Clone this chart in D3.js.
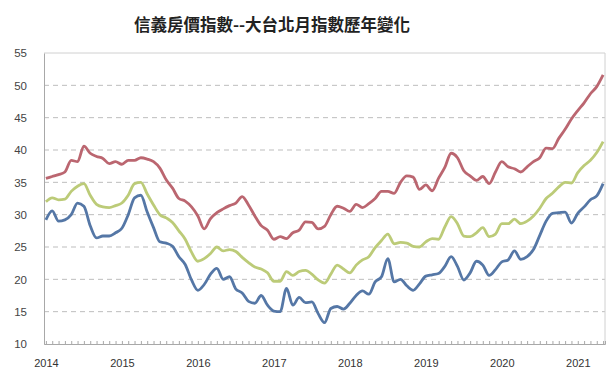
<!DOCTYPE html>
<html><head><meta charset="utf-8">
<script src="https://cdn.jsdelivr.net/npm/d3@7"></script>
<style>
html,body{margin:0;padding:0;background:#fff;}
svg{display:block;}
</style></head>
<body>
<svg id="chart" width="607" height="371"></svg>
<script>
const title = "信義房價指數--大台北月指數歷年變化";
const yearLabels = ["2014","2015","2016","2017","2018","2019","2020","2021"];
const yTicks = [10,15,20,25,30,35,40,45,50,55];
// monthly values Jan 2014 .. May 2021
const redSeries = [35.6,35.9,36.2,36.6,38.4,38.2,40.6,39.5,39.0,38.7,37.9,38.2,
37.8,38.4,38.4,38.8,38.6,38.2,37.2,35.4,34.1,32.5,32.1,31.2,
29.8,27.8,29.4,30.3,30.9,31.4,31.8,32.8,31.5,29.8,28.3,27.6,
26.2,26.6,26.3,27.2,27.6,28.9,28.8,27.8,28.2,30.0,31.3,31.0,
30.5,31.6,31.1,31.7,32.5,33.6,33.6,33.3,35.0,36.0,35.8,33.9,
34.6,33.7,35.6,37.3,39.5,38.8,36.8,36.0,35.3,35.9,34.8,36.6,
38.2,37.4,37.1,36.6,37.4,38.2,38.8,40.3,40.2,41.8,43.2,44.8,
46.1,47.3,48.7,49.8,51.6];
const greenSeries = [32.0,32.6,32.3,32.4,33.6,34.4,34.8,33.0,31.6,31.2,31.1,31.4,
31.8,33.0,34.8,35.0,33.2,31.5,30.0,29.5,28.8,27.5,26.2,24.2,
22.8,23.2,24.0,25.0,24.4,24.6,24.3,23.4,22.6,21.9,21.6,21.0,
19.7,19.7,21.2,20.6,21.2,21.4,20.8,19.9,19.4,20.8,22.2,21.6,
21.0,22.2,23.0,23.5,24.9,26.0,27.0,25.5,25.7,25.6,25.1,25.0,
25.8,26.3,26.2,28.1,29.7,28.6,26.7,26.6,27.2,28.0,26.6,27.0,
28.6,28.6,29.3,28.6,29.0,29.8,31.0,32.5,33.3,34.3,35.0,34.9,
36.5,37.6,38.4,39.6,41.3];
const blueSeries = [29.2,30.6,29.0,29.2,30.0,31.8,31.3,28.3,26.4,26.7,26.7,27.2,
27.9,30.0,32.6,33.0,30.4,28.0,25.8,25.6,25.1,23.5,22.3,19.9,
18.3,19.2,20.8,21.7,20.0,20.4,18.5,17.9,16.6,16.3,17.5,16.0,
15.1,15.0,18.6,16.0,17.2,16.4,16.5,14.7,13.3,15.5,15.8,15.4,
16.3,17.5,18.2,17.7,19.6,20.4,23.2,19.6,20.0,19.0,18.3,19.3,
20.5,20.7,20.9,22.0,23.5,22.0,19.9,21.0,22.8,22.2,20.6,21.5,
22.7,23.0,24.4,23.1,23.5,24.6,26.8,29.0,30.2,30.3,30.4,28.7,
30.2,31.2,32.3,32.9,34.8];
const seriesList = [
  {name:"blue", values: blueSeries, color:"#5577a6"},
  {name:"green", values: greenSeries, color:"#bccb78"},
  {name:"red", values: redSeries, color:"#bb6670"}
];

const svg = d3.select("#chart");
const L = 44, R = 605, T = 53, B = 344;
const n = redSeries.length;
const x = d3.scaleLinear().domain([-0.3, n - 1 + 0.3]).range([L, R]);
const y = d3.scaleLinear().domain([10, 55]).range([B, T]);

// title
svg.append("text").attr("x", 272).attr("y", 31).attr("text-anchor","middle")
  .attr("font-family","'Noto Sans CJK TC','Noto Sans CJK SC',sans-serif")
  .attr("font-weight","bold").attr("font-size",16.5).attr("fill","#222").text(title);

// gridlines
svg.append("g").selectAll("line").data(yTicks.filter(d => d > 10 && d < 55)).join("line")
  .attr("x1", L).attr("x2", R).attr("y1", d => y(d)).attr("y2", d => y(d))
  .attr("stroke","#bdbdbd").attr("stroke-width",1).attr("stroke-dasharray","5,4");

// frame top/right
svg.append("line").attr("x1",L).attr("x2",R).attr("y1",y(55)).attr("y2",y(55)).attr("stroke","#d0d0d0");
svg.append("line").attr("x1",R).attr("x2",R).attr("y1",y(55)).attr("y2",y(10)).attr("stroke","#d0d0d0");

// y axis
const yAxis = d3.axisLeft(y).tickValues(yTicks).tickSize(0).tickPadding(17);
const gy = svg.append("g").attr("transform",`translate(${L},0)`).call(yAxis);
gy.select(".domain").attr("stroke","#a8a8a8");
gy.selectAll("text").attr("font-family","'Liberation Sans',Arial,sans-serif").attr("font-size",11.5).attr("fill","#444");

// x axis: monthly minor ticks, yearly labels
const xMinor = d3.axisBottom(x).tickValues(d3.range(0, n)).tickSize(-3).tickFormat("");
const gxm = svg.append("g").attr("transform",`translate(0,${B})`).call(xMinor);
gxm.select(".domain").attr("stroke","#a8a8a8");
gxm.selectAll(".tick line").attr("stroke","#a8a8a8");
const xAxis = d3.axisBottom(x).tickValues(d3.range(0, n, 12)).tickSize(0).tickPadding(15)
  .tickFormat((d,i) => yearLabels[i]);
const gx = svg.append("g").attr("transform",`translate(0,${B})`).call(xAxis);
gx.select(".domain").remove();
gx.selectAll("text").attr("font-family","'Liberation Sans',Arial,sans-serif").attr("font-size",11).attr("fill","#333");

// lines
const line = d3.line().x((d,i) => x(i)).y(d => y(d)).curve(d3.curveMonotoneX);
svg.append("g").selectAll("path").data(seriesList).join("path")
  .attr("d", d => line(d.values)).attr("fill","none")
  .attr("stroke", d => d.color).attr("stroke-width",2.8).attr("stroke-linejoin","round");
</script>
</body></html>
